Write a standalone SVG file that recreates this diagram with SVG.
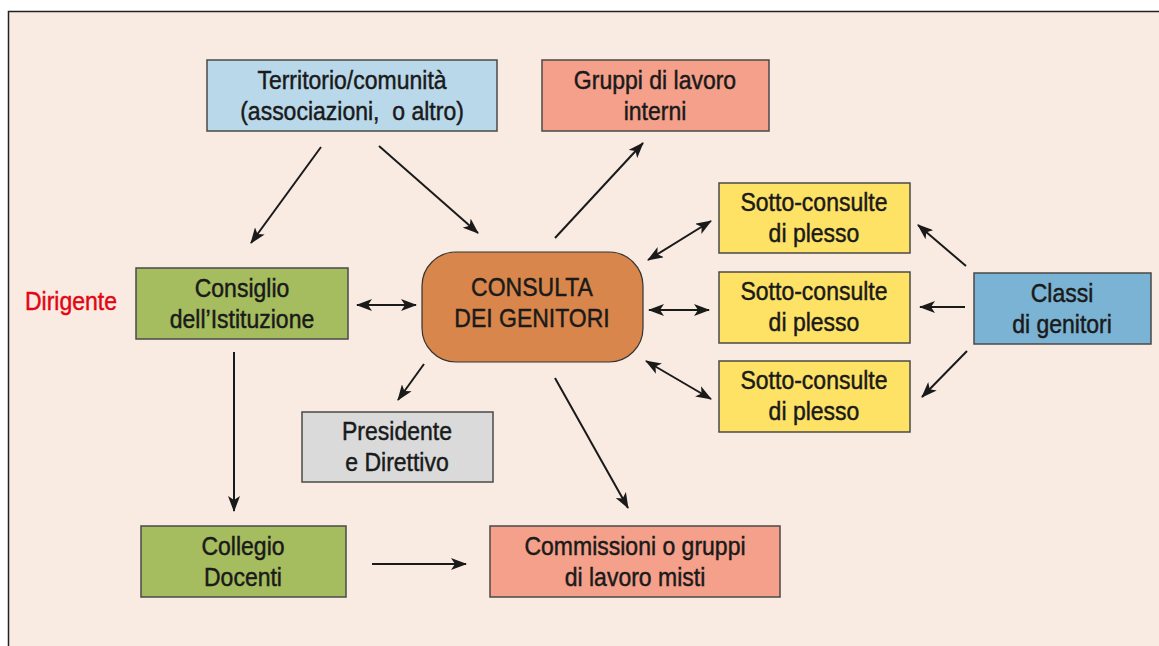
<svg xmlns="http://www.w3.org/2000/svg" width="1159" height="646" viewBox="0 0 1159 646">
<style>
.t{font-family:"Liberation Sans",Arial,sans-serif;font-size:25px;fill:#1a1a1a;stroke:#1a1a1a;stroke-width:0.45;text-anchor:middle}
.r{fill:#e30613;stroke:#e30613}
.b{stroke:#4a4a4a;stroke-width:1.5}
.c{stroke:#1a1a1a;stroke-width:2;fill:none}
</style>
<defs>
<marker id="ah" viewBox="0 0 16 12" refX="15" refY="6" markerWidth="16" markerHeight="12" markerUnits="userSpaceOnUse" orient="auto-start-reverse">
<path d="M0,0 L16,6 L0,12 L4,6 Z" fill="#1a1a1a"/>
</marker>
</defs>
<rect x="0" y="0" width="1159" height="646" fill="#fff"/>
<rect x="8.5" y="11.5" width="1160" height="650" fill="#f9ebe2" stroke="#222" stroke-width="1.5"/>
<text transform="translate(71 310) scale(0.92 1)" class="t r">Dirigente</text>
<g id="territorio"><rect x="207" y="60" width="290" height="71" fill="#b9d8e9" class="b"/><text transform="translate(352 89) scale(0.92 1)" class="t">Territorio/comunità</text><text transform="translate(352 120) scale(0.92 1)" class="t">(associazioni,&#160; o altro)</text></g>
<g id="gruppi"><rect x="542" y="60" width="227" height="71" fill="#f4a08a" class="b"/><text transform="translate(655 89) scale(0.92 1)" class="t">Gruppi di lavoro</text><text transform="translate(655 120) scale(0.92 1)" class="t">interni</text></g>
<g id="sc1"><rect x="719" y="183" width="191" height="70" fill="#fde265" class="b"/><text transform="translate(814 211) scale(0.92 1)" class="t">Sotto-consulte</text><text transform="translate(814 242) scale(0.92 1)" class="t">di plesso</text></g>
<g id="sc2"><rect x="719" y="272" width="191" height="71" fill="#fde265" class="b"/><text transform="translate(814 300) scale(0.92 1)" class="t">Sotto-consulte</text><text transform="translate(814 331) scale(0.92 1)" class="t">di plesso</text></g>
<g id="sc3"><rect x="719" y="361" width="191" height="71" fill="#fde265" class="b"/><text transform="translate(814 389) scale(0.92 1)" class="t">Sotto-consulte</text><text transform="translate(814 420) scale(0.92 1)" class="t">di plesso</text></g>
<g id="classi"><rect x="974" y="273" width="177" height="71" fill="#7ab3d3" class="b"/><text transform="translate(1062 302) scale(0.92 1)" class="t">Classi</text><text transform="translate(1062 333) scale(0.92 1)" class="t">di genitori</text></g>
<g id="consiglio"><rect x="136" y="268" width="212" height="71" fill="#a5bc5f" class="b"/><text transform="translate(242 297) scale(0.92 1)" class="t">Consiglio</text><text transform="translate(242 328) scale(0.92 1)" class="t">dell’Istituzione</text></g>
<g id="consulta"><rect x="422" y="252" width="221" height="110" rx="34" fill="#d8864b" stroke="#333" stroke-width="1.2"/><text transform="translate(532 296) scale(0.92 1)" class="t">CONSULTA</text><text transform="translate(532 327) scale(0.92 1)" class="t">DEI GENITORI</text></g>
<g id="presidente"><rect x="302" y="412" width="191" height="70" fill="#dadada" class="b"/><text transform="translate(397 440) scale(0.92 1)" class="t">Presidente</text><text transform="translate(397 471) scale(0.92 1)" class="t">e Direttivo</text></g>
<g id="collegio"><rect x="141" y="526" width="205" height="71" fill="#a5bc5f" class="b"/><text transform="translate(243 555) scale(0.92 1)" class="t">Collegio</text><text transform="translate(243 586) scale(0.92 1)" class="t">Docenti</text></g>
<g id="commissioni"><rect x="490" y="526" width="290" height="71" fill="#f4a08a" class="b"/><text transform="translate(635 555) scale(0.92 1)" class="t">Commissioni o gruppi</text><text transform="translate(635 586) scale(0.92 1)" class="t">di lavoro misti</text></g>
<g id="connectors">
<line x1="321" y1="147" x2="251" y2="243" class="c" marker-end="url(#ah)"/>
<line x1="379" y1="146" x2="478" y2="233" class="c" marker-end="url(#ah)"/>
<line x1="555" y1="238" x2="643" y2="143" class="c" marker-end="url(#ah)"/>
<line x1="648" y1="260" x2="711" y2="221" class="c" marker-start="url(#ah)" marker-end="url(#ah)"/>
<line x1="649" y1="310" x2="709" y2="310" class="c" marker-start="url(#ah)" marker-end="url(#ah)"/>
<line x1="646" y1="361" x2="711" y2="399" class="c" marker-start="url(#ah)" marker-end="url(#ah)"/>
<line x1="966" y1="266" x2="918" y2="225" class="c" marker-end="url(#ah)"/>
<line x1="965" y1="307" x2="920" y2="307" class="c" marker-end="url(#ah)"/>
<line x1="967" y1="351" x2="922" y2="397" class="c" marker-end="url(#ah)"/>
<line x1="357" y1="305" x2="416" y2="305" class="c" marker-start="url(#ah)" marker-end="url(#ah)"/>
<line x1="234" y1="352" x2="234" y2="511" class="c" marker-end="url(#ah)"/>
<line x1="424" y1="364" x2="398" y2="400" class="c" marker-end="url(#ah)"/>
<line x1="555" y1="378" x2="628" y2="508" class="c" marker-end="url(#ah)"/>
<line x1="372" y1="564" x2="466" y2="564" class="c" marker-end="url(#ah)"/>
</g>
</svg>
